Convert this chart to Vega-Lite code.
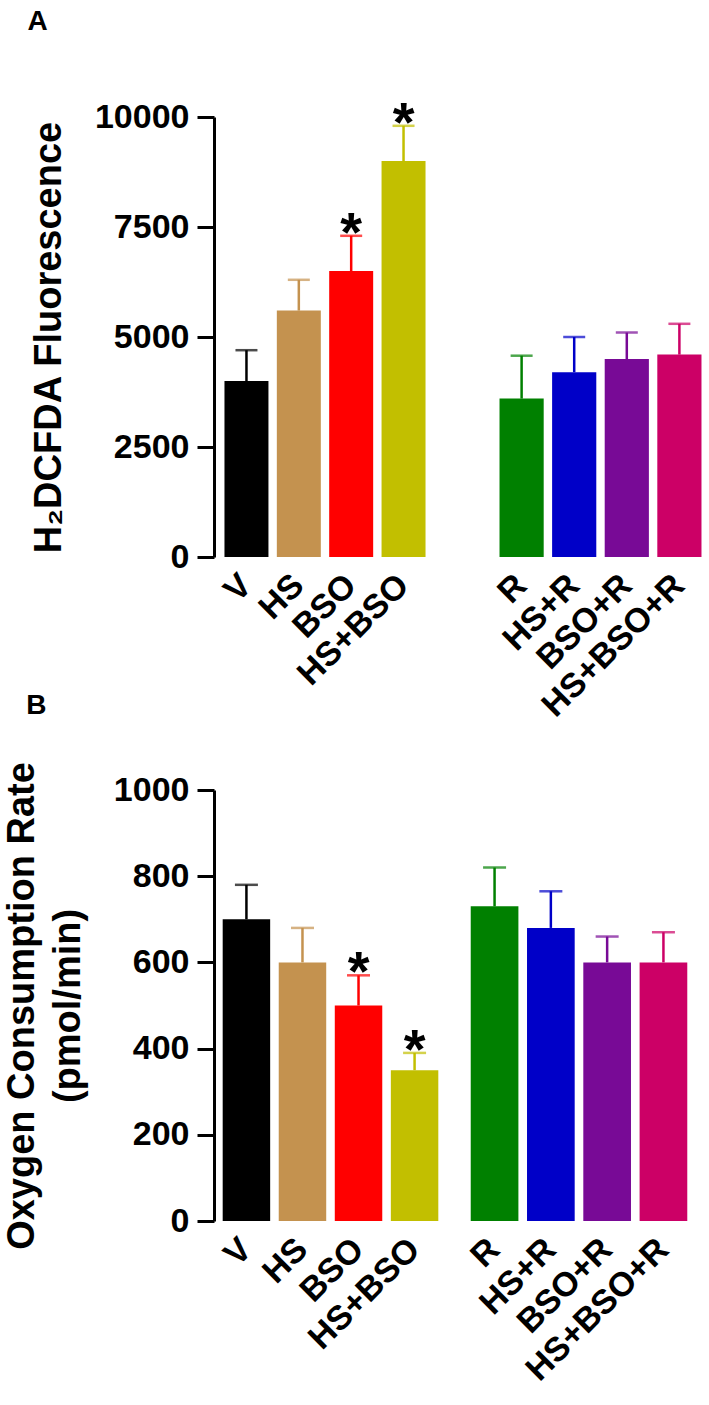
{
  "$schema": "https://vega.github.io/schema/vega-lite/v6.json",
  "padding": {"left": 3, "top": 7, "right": 0, "bottom": 5},
  "background": "white",
  "datasets": {
    "ros": [
      {"treatment": "V", "value": 4000, "upper": 4700, "sig": "", "grp": 1},
      {"treatment": "HS", "value": 5600, "upper": 6300, "sig": "", "grp": 1},
      {"treatment": "BSO", "value": 6500, "upper": 7300, "sig": "*", "grp": 1},
      {"treatment": "HS+BSO", "value": 9000, "upper": 9800, "sig": "*", "grp": 1},
      {"treatment": "R", "value": 3600, "upper": 4575, "sig": "", "grp": 2},
      {"treatment": "HS+R", "value": 4200, "upper": 5000, "sig": "", "grp": 2},
      {"treatment": "BSO+R", "value": 4500, "upper": 5100, "sig": "", "grp": 2},
      {"treatment": "HS+BSO+R", "value": 4600, "upper": 5300, "sig": "", "grp": 2}
    ],
    "ocr": [
      {"treatment": "V", "value": 700, "upper": 780, "sig": "", "grp": 1},
      {"treatment": "HS", "value": 600, "upper": 680, "sig": "", "grp": 1},
      {"treatment": "BSO", "value": 500, "upper": 570, "sig": "*", "grp": 1},
      {"treatment": "HS+BSO", "value": 350, "upper": 390, "sig": "*", "grp": 1},
      {"treatment": "R", "value": 730, "upper": 820, "sig": "", "grp": 2},
      {"treatment": "HS+R", "value": 680, "upper": 765, "sig": "", "grp": 2},
      {"treatment": "BSO+R", "value": 600, "upper": 660, "sig": "", "grp": 2},
      {"treatment": "HS+BSO+R", "value": 600, "upper": 670, "sig": "", "grp": 2}
    ]
  },
  "config": {
    "font": "Liberation Sans",
    "view": {"stroke": null},
    "axis": {
      "labelFont": "Liberation Sans", "labelFontWeight": "bold", "labelFontSize": 34, "labelColor": "black", "labelLimit": 400,
      "titleFont": "Liberation Sans", "titleFontWeight": "bold", "titleFontSize": 38, "titleColor": "black", "titleLimit": 800,
      "grid": false
    },
    "axisX": {"domain": false, "ticks": false, "labelAngle": -45, "labelAlign": "right", "labelBaseline": "middle", "labelPadding": 23, "title": null},
    "axisY": {"domainColor": "black", "domainWidth": 3, "tickColor": "black", "tickWidth": 3, "tickSize": 17, "labelPadding": 8, "titlePadding": 26, "format": "d"},
    "title": {"font": "Liberation Sans", "fontSize": 28, "fontWeight": "bold", "anchor": "start", "frame": "bounds", "color": "black"}
  },
  "spacing": -32,
  "vconcat": [
    {
      "title": {"text": "A", "offset": 60, "dx": 16},
      "spacing": 53,
      "hconcat": [
        {
          "data": {"name": "ros"},
          "transform": [{"filter": "datum.grp == 1"}],
          "width": 222, "height": 440,
          "encoding": {
            "x": {"field": "treatment", "type": "nominal", "sort": null, "scale": {"paddingInner": 0.16, "paddingOuter": 0.2}},
            "y": {"field": "value", "type": "quantitative", "scale": {"domain": [0, 10000]},
                  "axis": {"title": ["", "H₂DCFDA Fluorescence"], "titleLineHeight": 19, "values": [0, 2500, 5000, 7500, 10000]}},
            "color": {"field": "treatment", "type": "nominal", "legend": null,
                      "scale": {"domain": ["V", "HS", "BSO", "HS+BSO", "R", "HS+R", "BSO+R", "HS+BSO+R"],
                                "range": ["#000000", "#C4924F", "#FF0000", "#C2BF00", "#008000", "#0000C8", "#780A96", "#CC0066"]}}
          },
          "layer": [
            {"mark": {"type": "bar"}},
            {"mark": {"type": "rule", "strokeWidth": 2.5}, "encoding": {"y2": {"field": "upper"}}},
            {"mark": {"type": "tick", "thickness": 2.5, "size": 22}, "encoding": {"y": {"field": "upper", "type": "quantitative"}}},
            {"mark": {"type": "text", "fontSize": 56, "fontWeight": "bold", "baseline": "alphabetic", "dy": 15, "color": "black"},
             "encoding": {"y": {"field": "upper", "type": "quantitative"}, "text": {"field": "sig"}, "color": {"value": "black"}}}
          ]
        },
        {
          "data": {"name": "ros"},
          "transform": [{"filter": "datum.grp == 2"}],
          "width": 223, "height": 440,
          "encoding": {
            "x": {"field": "treatment", "type": "nominal", "sort": null, "scale": {"paddingInner": 0.16, "paddingOuter": 0.2}},
            "y": {"field": "value", "type": "quantitative", "scale": {"domain": [0, 10000]}, "axis": null},
            "color": {"field": "treatment", "type": "nominal", "legend": null,
                      "scale": {"domain": ["V", "HS", "BSO", "HS+BSO", "R", "HS+R", "BSO+R", "HS+BSO+R"],
                                "range": ["#000000", "#C4924F", "#FF0000", "#C2BF00", "#008000", "#0000C8", "#780A96", "#CC0066"]}}
          },
          "layer": [
            {"mark": {"type": "bar"}},
            {"mark": {"type": "rule", "strokeWidth": 2.5}, "encoding": {"y2": {"field": "upper"}}},
            {"mark": {"type": "tick", "thickness": 2.5, "size": 22}, "encoding": {"y": {"field": "upper", "type": "quantitative", "axis": null}}}
          ]
        }
      ]
    },
    {
      "title": {"text": "B", "offset": 42, "dx": 23},
      "spacing": 15,
      "hconcat": [
        {
          "data": {"name": "ocr"},
          "transform": [{"filter": "datum.grp == 1"}],
          "width": 233, "height": 431,
          "encoding": {
            "x": {"field": "treatment", "type": "nominal", "sort": null, "scale": {"paddingInner": 0.153, "paddingOuter": 0.155}},
            "y": {"field": "value", "type": "quantitative", "scale": {"domain": [0, 1000]},
                  "axis": {"title": ["Oxygen Consumption Rate", "(pmol/min)"], "titleLineHeight": 46, "values": [0, 200, 400, 600, 800, 1000]}},
            "color": {"field": "treatment", "type": "nominal", "legend": null,
                      "scale": {"domain": ["V", "HS", "BSO", "HS+BSO", "R", "HS+R", "BSO+R", "HS+BSO+R"],
                                "range": ["#000000", "#C4924F", "#FF0000", "#C2BF00", "#008000", "#0000C8", "#780A96", "#CC0066"]}}
          },
          "layer": [
            {"mark": {"type": "bar"}},
            {"mark": {"type": "rule", "strokeWidth": 2.5}, "encoding": {"y2": {"field": "upper"}}},
            {"mark": {"type": "tick", "thickness": 2.5, "size": 23}, "encoding": {"y": {"field": "upper", "type": "quantitative"}}},
            {"mark": {"type": "text", "fontSize": 56, "fontWeight": "bold", "baseline": "alphabetic", "dy": 15, "color": "black"},
             "encoding": {"y": {"field": "upper", "type": "quantitative"}, "text": {"field": "sig"}, "color": {"value": "black"}}}
          ]
        },
        {
          "data": {"name": "ocr"},
          "transform": [{"filter": "datum.grp == 2"}],
          "width": 234, "height": 431,
          "encoding": {
            "x": {"field": "treatment", "type": "nominal", "sort": null, "scale": {"paddingInner": 0.153, "paddingOuter": 0.155}},
            "y": {"field": "value", "type": "quantitative", "scale": {"domain": [0, 1000]}, "axis": null},
            "color": {"field": "treatment", "type": "nominal", "legend": null,
                      "scale": {"domain": ["V", "HS", "BSO", "HS+BSO", "R", "HS+R", "BSO+R", "HS+BSO+R"],
                                "range": ["#000000", "#C4924F", "#FF0000", "#C2BF00", "#008000", "#0000C8", "#780A96", "#CC0066"]}}
          },
          "layer": [
            {"mark": {"type": "bar"}},
            {"mark": {"type": "rule", "strokeWidth": 2.5}, "encoding": {"y2": {"field": "upper"}}},
            {"mark": {"type": "tick", "thickness": 2.5, "size": 23}, "encoding": {"y": {"field": "upper", "type": "quantitative", "axis": null}}}
          ]
        }
      ]
    }
  ]
}
